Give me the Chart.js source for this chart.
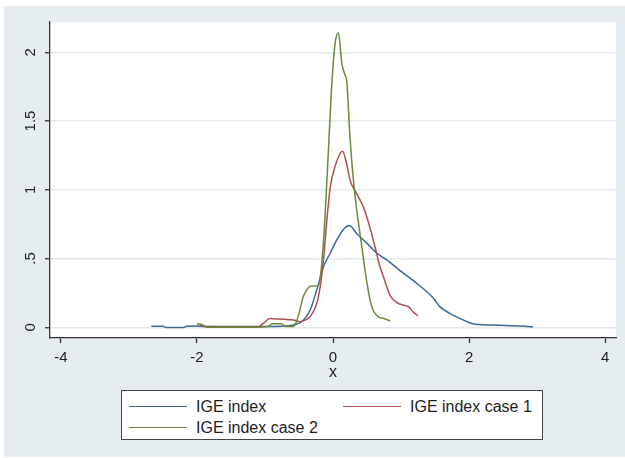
<!DOCTYPE html>
<html>
<head>
<meta charset="utf-8">
<script src="https://cdn.jsdelivr.net/npm/chart.js@4.4.1/dist/chart.umd.min.js"></script>
<style>
  html, body { margin: 0; padding: 0; background: #fff; }
  #wrap { position: relative; width: 625px; height: 458px; overflow: hidden; }
  #chart { position: absolute; left: 0; top: 0; }
  #legend {
    position: absolute; left: 121px; top: 390px; width: 420px; height: 48px;
    background: #fff; border: 1.5px solid #444;
    font-family: "Liberation Sans", Arial, sans-serif; font-size: 16px; color: #1e1e1e;
  }
  .item { position: absolute; height: 20px; }
  .swatch { position: absolute; left: 0; top: 9px; width: 58px; height: 0; border-top: 1.5px solid; }
  .label { position: absolute; left: 67px; top: 0; line-height: 20px; white-space: nowrap; }
</style>
</head>
<body>
<div id="wrap">
  <canvas id="chart" width="625" height="458"></canvas>
  <div id="legend"></div>
</div>
<script>
// ── Data ─────────────────────────────────────────────────────────────────────

const X_TICKS = [-4, -2, 0, 2, 4];
const Y_TICKS = [0, 0.5, 1, 1.5, 2];

const SERIES_NAMES  = ['IGE index', 'IGE index case 1', 'IGE index case 2'];
const SERIES_COLORS = ['#3a6896', '#b04c52', '#6a8a3a'];

const IGE_X = [-2.67, -2.5, -2.45, -2.2, -2.15, -2.0, -1.9, -1.5, -1.0, -0.75, -0.6, -0.5, -0.44,
               -0.34, -0.24, -0.14, -0.04, 0.05, 0.15, 0.24, 0.35, 0.5, 0.64, 0.79, 0.99, 1.23,
               1.48, 1.57, 1.72, 1.87, 2.0, 2.09, 2.46, 2.82, 2.94];
const IGE_Y = [0.008, 0.008, -0.002, -0.002, 0.008, 0.01, 0.006, 0.005, 0.005, 0.008, 0.015, 0.03, 0.05,
               0.12, 0.27, 0.44, 0.54, 0.63, 0.71, 0.74, 0.68, 0.61, 0.54, 0.49, 0.41, 0.32,
               0.21, 0.15, 0.10, 0.063, 0.035, 0.022, 0.015, 0.007, 0.003];

const CASE1_X = [-1.96, -1.85, -1.5, -1.1, -1.02, -0.93, -0.8, -0.65, -0.55, -0.49, -0.42, -0.34,
                 -0.24, -0.19, -0.14, -0.09, -0.04, 0.03, 0.10, 0.14, 0.20, 0.25, 0.35, 0.45,
                 0.54, 0.64, 0.69, 0.74, 0.84, 0.94, 1.04, 1.11, 1.18, 1.25];
const CASE1_Y = [0.015, 0.005, 0.003, 0.003, 0.03, 0.063, 0.06, 0.055, 0.05, 0.04, 0.05, 0.075,
                 0.17, 0.29, 0.49, 0.78, 1.02, 1.17, 1.26, 1.28, 1.19, 1.07, 0.97, 0.87,
                 0.73, 0.54, 0.44, 0.37, 0.23, 0.18, 0.16, 0.15, 0.11, 0.085];

const CASE2_X = [-2.0, -1.93, -1.85, -1.2, -0.95, -0.9, -0.75, -0.7, -0.58, -0.5, -0.44, -0.36,
                 -0.31, -0.22, -0.17, -0.12, -0.07, -0.02, 0.03, 0.08, 0.13, 0.18, 0.20, 0.25,
                 0.30, 0.35, 0.42, 0.50, 0.57, 0.67, 0.74, 0.84];
const CASE2_Y = [0.025, 0.02, 0.0, 0.0, 0.005, 0.025, 0.025, 0.005, 0.005, 0.1, 0.22, 0.29,
                 0.30, 0.30, 0.44, 0.78, 1.26, 1.75, 2.06, 2.14, 1.92, 1.83, 1.80, 1.38,
                 1.07, 0.85, 0.6, 0.32, 0.15, 0.075, 0.065, 0.046];

// ── Helpers ──────────────────────────────────────────────────────────────────

const FONT = "'Liberation Sans', Arial, sans-serif";
const INK  = '#1e1e1e';

function points(xs, ys) {
    return xs.map((x, i) => ({ x: x, y: ys[i] }));
}

function series(i, xs, ys) {
    return {
        label: SERIES_NAMES[i],
        data: points(xs, ys),
        borderColor: SERIES_COLORS[i],
        borderWidth: 1.5,
        pointRadius: 0,
        cubicInterpolationMode: 'monotone',
        order: 3 - i
    };
}

// gray graph region + white plot region, Stata style
const backdrop = {
    id: 'backdrop',
    beforeDraw(chart) {
        const { ctx, chartArea: a } = chart;
        ctx.save();
        ctx.fillStyle = '#fff';
        ctx.fillRect(0, 0, chart.width, chart.height);
        ctx.fillStyle = '#e6edf0';
        ctx.fillRect(4, 6, chart.width - 4, chart.height - 7);
        ctx.fillStyle = '#fff';
        ctx.fillRect(a.left, a.top, a.right - a.left, a.bottom - a.top);
        ctx.restore();
    }
};

// ── Chart ────────────────────────────────────────────────────────────────────

new Chart(document.getElementById('chart').getContext('2d'), {
    type: 'line',
    data: {
        datasets: [
            series(0, IGE_X, IGE_Y),
            series(1, CASE1_X, CASE1_Y),
            series(2, CASE2_X, CASE2_Y)
        ]
    },
    options: {
        responsive: false,
        animation: false,
        layout: { padding: { left: 0, top: 22, right: 9, bottom: 76 } },
        plugins: { legend: { display: false }, tooltip: { enabled: false } },
        scales: {
            x: {
                type: 'linear',
                min: -4.16, max: 4.16,
                afterBuildTicks: axis => { axis.ticks = X_TICKS.map(v => ({ value: v })); },
                afterFit: scale => { scale.height = 44; },
                grid: { drawOnChartArea: false, tickLength: 5, tickColor: '#333', tickWidth: 1.3 },
                border: { color: '#333', width: 1.3 },
                ticks: {
                    padding: 6, color: INK, maxRotation: 0,
                    font: { family: FONT, size: 15 },
                    callback: v => String(v)
                },
                title: {
                    display: true, text: 'x', color: INK,
                    padding: { top: 0, bottom: 0 },
                    font: { family: FONT, size: 16 }
                }
            },
            y: {
                min: -0.078, max: 2.22,
                afterBuildTicks: axis => { axis.ticks = Y_TICKS.map(v => ({ value: v })); },
                afterFit: scale => { scale.width = 50; },
                grid: { color: '#e3eaee', lineWidth: 1.5, tickLength: 5, tickColor: '#333', tickWidth: 1.3 },
                border: { color: '#333', width: 1.3 },
                ticks: {
                    padding: 4, color: INK,
                    minRotation: 90, maxRotation: 90,
                    crossAlign: 'center',
                    font: { family: FONT, size: 15 },
                    callback: v => String(v).replace(/^0\./, '.')
                }
            }
        }
    },
    plugins: [backdrop]
});

// ── Legend (Stata-style boxed key) ───────────────────────────────────────────

const LEGEND_SLOTS = [[7, 6], [221, 6], [7, 27]];
const legend = document.getElementById('legend');
SERIES_NAMES.forEach((name, i) => {
    const item = document.createElement('div');
    item.className = 'item';
    item.style.left = LEGEND_SLOTS[i][0] + 'px';
    item.style.top = LEGEND_SLOTS[i][1] + 'px';
    item.innerHTML = `<div class="swatch" style="border-color:${SERIES_COLORS[i]}"></div><div class="label">${name}</div>`;
    legend.appendChild(item);
});
</script>
</body>
</html>
